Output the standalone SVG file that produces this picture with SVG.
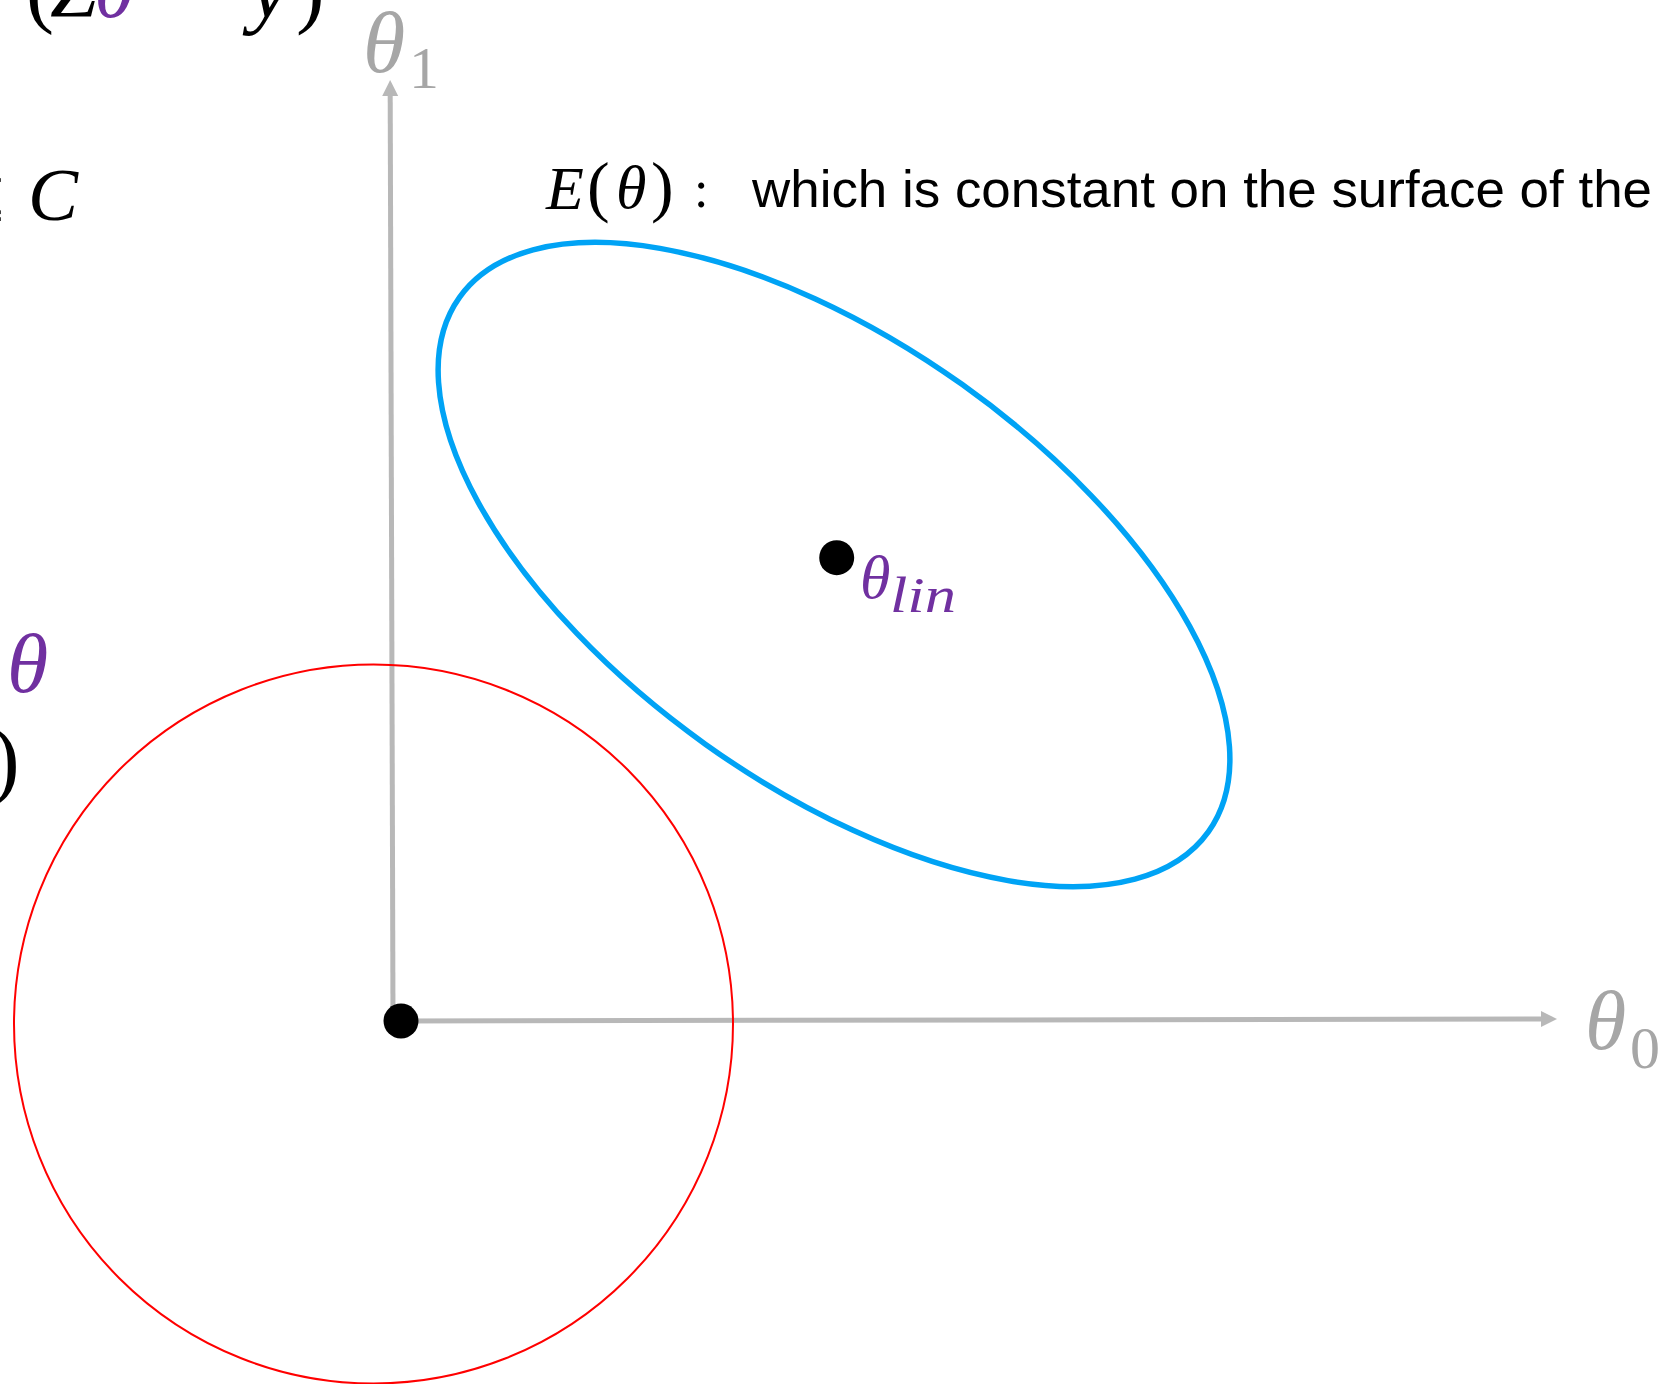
<svg xmlns="http://www.w3.org/2000/svg" width="1659" height="1384" viewBox="0 0 1659 1384">
<style>
.m{font-family:"Liberation Serif","DejaVu Serif",serif;font-style:italic}
.n{font-family:"Liberation Serif","DejaVu Serif",serif}
.g{fill:#A6A6A6}
.p{fill:#7030A0}
.k{fill:#000}
.axis{stroke:#B8B8B8;stroke-width:5;fill:none}
</style>
<defs>
<marker id="ah" markerWidth="4" markerHeight="4" refX="0" refY="2" orient="auto" markerUnits="strokeWidth" viewBox="0 0 4 4">
<path d="M0,0.4 L3.2,2 L0,3.6 Z" fill="#B8B8B8"/>
</marker>
</defs>
<rect width="1659" height="1384" fill="#fff"/>

<g id="left-text">
<text class="n k" x="26" y="17" font-size="84">(</text>
<text class="m k" x="50" y="17" font-size="84">Z</text>
<text class="m p" x="94" y="17" font-size="84">θ</text>
<text class="m k" x="250" y="17" font-size="88">y</text>
<text class="n k" x="296" y="17" font-size="86">)</text>
<text class="n k" x="4" y="221" font-size="75" text-anchor="end">≤</text>
<text class="m k" x="28" y="220" font-size="75">C</text>
<text class="m p" x="7" y="692" font-size="84">θ</text>
<text class="n k" x="-9" y="788" font-size="86">)</text>
</g>

<g id="connectors">
<line class="axis" x1="393" y1="1021" x2="390.2" y2="96" marker-end="url(#ah)"/>
<line class="axis" x1="401" y1="1021" x2="1541" y2="1019" marker-end="url(#ah)"/>
</g>

<g id="axis-theta1">
<text class="m g" x="363" y="72" font-size="86">θ</text>
<text class="n g" x="409" y="88" font-size="60">1</text>
</g>
<g id="axis-theta0">
<text class="m g" x="1585" y="1049" font-size="84">θ</text>
<text class="n g" x="1630" y="1068" font-size="60">0</text>
</g>

<g id="red-circle">
<circle cx="373.5" cy="1024" r="359.5" fill="none" stroke="#FF0000" stroke-width="2"/>
</g>

<g id="ellipse-E">
<ellipse cx="834" cy="564.5" rx="460" ry="221" transform="rotate(35.5 834 564.5)" fill="none" stroke="#00A3F5" stroke-width="5.5"/>
</g>

<g id="origin">
<circle cx="401" cy="1021" r="17.5" fill="#000"/>
</g>

<g id="theta-lin">
<circle cx="836.7" cy="557.7" r="17.5" fill="#000"/>
<text class="m p" x="860" y="598" font-size="62">θ</text>
<text class="m p" x="890" y="612" font-size="50" textLength="66" lengthAdjust="spacingAndGlyphs">lin</text>
</g>

<g id="label-E">
<text class="m k" x="546" y="209" font-size="62">E</text>
<text class="n k" x="587" y="209" font-size="68">(</text>
<text class="m k" x="616" y="208" font-size="62">θ</text>
<text class="n k" x="651" y="209" font-size="68">)</text>
<text class="n k" x="694" y="207" font-size="52" font-family="Liberation Sans">:</text>
<text x="752" y="207" font-family="Liberation Sans, Arial, sans-serif" font-size="52" fill="#000" textLength="900" lengthAdjust="spacingAndGlyphs">which is constant on the surface of the</text>
</g>
</svg>
